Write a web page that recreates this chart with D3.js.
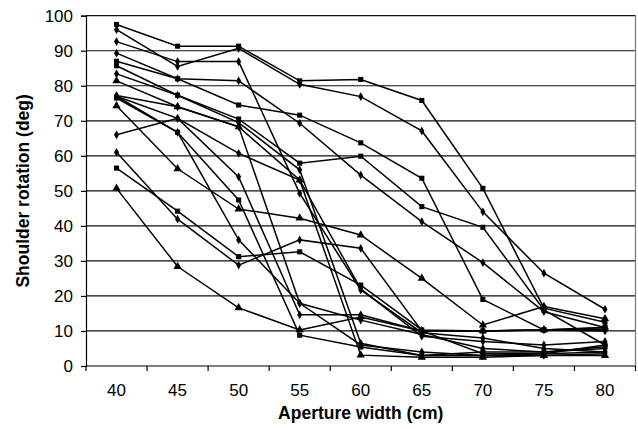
<!DOCTYPE html>
<html>
<head>
<meta charset="utf-8">
<script src="https://cdn.jsdelivr.net/npm/d3@7"></script>
<style>
  body { margin: 0; background: #fff; }
  svg { display: block; }
</style>
</head>
<body>
<div id="wrapper"></div>
<script>
// 1. Access Data
const apertures = ["40", "45", "50", "55", "60", "65", "70", "75", "80"]
const yTicks = [0, 10, 20, 30, 40, 50, 60, 70, 80, 90, 100]

const subject01 = [97.5, 91.3, 91.3, 81.4, 81.8, 75.8, 50.7, 16.5, 12.5]
const subject02 = [96, 85.5, 90.7, 80.4, 76.9, 67.1, 44, 26.5, 16.2]
const subject03 = [92.6, 86.9, 86.9, 49.3, 21.7, 9.5, 8, 5, 4]
const subject04 = [89.3, 82, 81.4, 69.3, 54.5, 41.2, 29.5, 15.5, 11]
const subject05 = [87, 82, 74.5, 71.6, 63.7, 53.6, 19, 10.3, 10.5]
const subject06 = [85.7, 77.3, 70.5, 57.9, 59.9, 45.5, 39.6, 16, 6]
const subject07 = [83.4, 77.3, 69.5, 56, 6.5, 3, 3, 3.5, 4]
const subject08 = [81.4, 74, 68.3, 53.1, 3.1, 2.5, 2.5, 3, 3]
const subject09 = [77.2, 74, 68.3, 17.9, 13.1, 9, 5, 4, 5]
const subject10 = [77, 70.7, 54, 14.6, 14.6, 10, 10, 10.3, 10]
const subject11 = [76.5, 66.7, 47.4, 8.8, 5.4, 3, 4, 4, 5.5]
const subject12 = [74.3, 56.3, 44.8, 42.2, 37.4, 25, 11.7, 17, 13.5]
const subject13 = [66, 70.7, 60.7, 53.1, 22, 8.5, 7, 6, 7]
const subject14 = [61, 41.9, 28.8, 36, 33.6, 10, 3.5, 3.5, 6]
const subject15 = [56.5, 44.2, 31.2, 32.6, 23.1, 10.3, 10, 10.3, 11]
const subject16 = [50.7, 28.4, 16.6, 10.3, 14, 10, 10, 10.3, 11]
const subject17 = [77, 66.7, 36, 17.9, 6, 4, 3, 3, 3.5]

const markerTypes = [
  "square", "diamond", "diamond", "diamond", "square", "square", "diamond",
  "triangle", "diamond", "diamond", "square", "triangle", "diamond",
  "diamond", "square", "triangle", "diamond",
]

const subjects = [
  subject01, subject02, subject03, subject04, subject05, subject06,
  subject07, subject08, subject09, subject10, subject11, subject12,
  subject13, subject14, subject15, subject16, subject17,
].map((values, i) => ({ values, marker: markerTypes[i] }))

// 2. Create Chart Dimensions
const dimensions = {
  width: 638,
  height: 429,
  margin: { top: 15.7, right: 2.5, bottom: 63, left: 86 },
}
dimensions.boundedWidth =
  dimensions.width - dimensions.margin.left - dimensions.margin.right
dimensions.boundedHeight =
  dimensions.height - dimensions.margin.top - dimensions.margin.bottom

// 3. Draw Canvas
const wrapper = d3
  .select("#wrapper")
  .append("svg")
  .attr("width", dimensions.width)
  .attr("height", dimensions.height)
  .style("font-family", "'Liberation Sans', Arial, sans-serif")
const bounds = wrapper
  .append("g")
  .attr("transform", `translate(${dimensions.margin.left},${dimensions.margin.top})`)

// 4. Create Scales
const xScale = d3
  .scaleBand()
  .domain(apertures)
  .range([0, dimensions.boundedWidth])
const yScale = d3
  .scaleLinear()
  .domain([0, 100])
  .range([dimensions.boundedHeight, 0])
const xCenter = i => xScale(apertures[i]) + xScale.bandwidth() / 2

// 5. Draw Peripherals (grid behind data)
bounds
  .append("g")
  .selectAll("line")
  .data(yTicks.filter(d => d > 0))
  .join("line")
  .attr("x1", 0)
  .attr("x2", dimensions.boundedWidth)
  .attr("y1", d => yScale(d))
  .attr("y2", d => yScale(d))
  .attr("stroke", "#111")
  .attr("stroke-width", 1.2)

bounds
  .append("line")
  .attr("x1", dimensions.boundedWidth)
  .attr("x2", dimensions.boundedWidth)
  .attr("y1", 0)
  .attr("y2", dimensions.boundedHeight)
  .attr("stroke", "#777")
  .attr("stroke-width", 1.2)

// 6. Draw Data
const lineGenerator = d3
  .line()
  .x((d, i) => xCenter(i))
  .y(d => yScale(d))

const symbolFor = {
  square: d3.symbol().type(d3.symbolSquare).size(26),
  diamond: d3.symbol().type(d3.symbolDiamond).size(22),
  triangle: d3.symbol().type(d3.symbolTriangle).size(30),
}

const series = bounds
  .append("g")
  .selectAll("g")
  .data(subjects)
  .join("g")

series
  .append("path")
  .attr("d", d => lineGenerator(d.values))
  .attr("fill", "none")
  .attr("stroke", "#000")
  .attr("stroke-width", 1.5)

series
  .selectAll("path.marker")
  .data(d => d.values.map((v, i) => ({ v, i, marker: d.marker })))
  .join("path")
  .attr("class", "marker")
  .attr("d", d => symbolFor[d.marker]())
  .attr("transform", d => `translate(${xCenter(d.i)},${yScale(d.v)})`)
  .attr("fill", "#000")

// axes
const yAxis = d3.axisLeft(yScale).tickValues(yTicks).tickSize(5).tickPadding(8)
const yAxisGroup = bounds.append("g").call(yAxis)
yAxisGroup.select(".domain").attr("stroke", "#000").attr("stroke-width", 1.2)
yAxisGroup.selectAll(".tick line").attr("stroke", "#000").attr("stroke-width", 1.2)
yAxisGroup
  .selectAll("text")
  .attr("font-size", 17)
  .attr("font-family", "'Liberation Sans', Arial, sans-serif")
  .attr("fill", "#000")

const xAxisGroup = bounds
  .append("g")
  .attr("transform", `translate(0,${dimensions.boundedHeight})`)
xAxisGroup
  .append("line")
  .attr("x1", 0)
  .attr("x2", dimensions.boundedWidth)
  .attr("stroke", "#000")
  .attr("stroke-width", 1.2)
xAxisGroup
  .selectAll("line.tick")
  .data(d3.range(apertures.length + 1))
  .join("line")
  .attr("class", "tick")
  .attr("x1", i => i * xScale.step())
  .attr("x2", i => i * xScale.step())
  .attr("y1", 0)
  .attr("y2", 5)
  .attr("stroke", "#000")
  .attr("stroke-width", 1.2)
xAxisGroup
  .selectAll("text")
  .data(apertures)
  .join("text")
  .attr("x", (d, i) => xCenter(i))
  .attr("y", 30)
  .attr("text-anchor", "middle")
  .attr("font-size", 17)
  .text(d => d)

wrapper
  .append("text")
  .attr("x", dimensions.margin.left + dimensions.boundedWidth / 2)
  .attr("y", 419)
  .attr("text-anchor", "middle")
  .attr("font-size", 17.5)
  .attr("font-weight", "bold")
  .text("Aperture width (cm)")

wrapper
  .append("text")
  .attr(
    "transform",
    `translate(29,${dimensions.margin.top + dimensions.boundedHeight / 2}) rotate(-90)`
  )
  .attr("text-anchor", "middle")
  .attr("font-size", 17.5)
  .attr("font-weight", "bold")
  .text("Shoulder rotation (deg)")
</script>
</body>
</html>
